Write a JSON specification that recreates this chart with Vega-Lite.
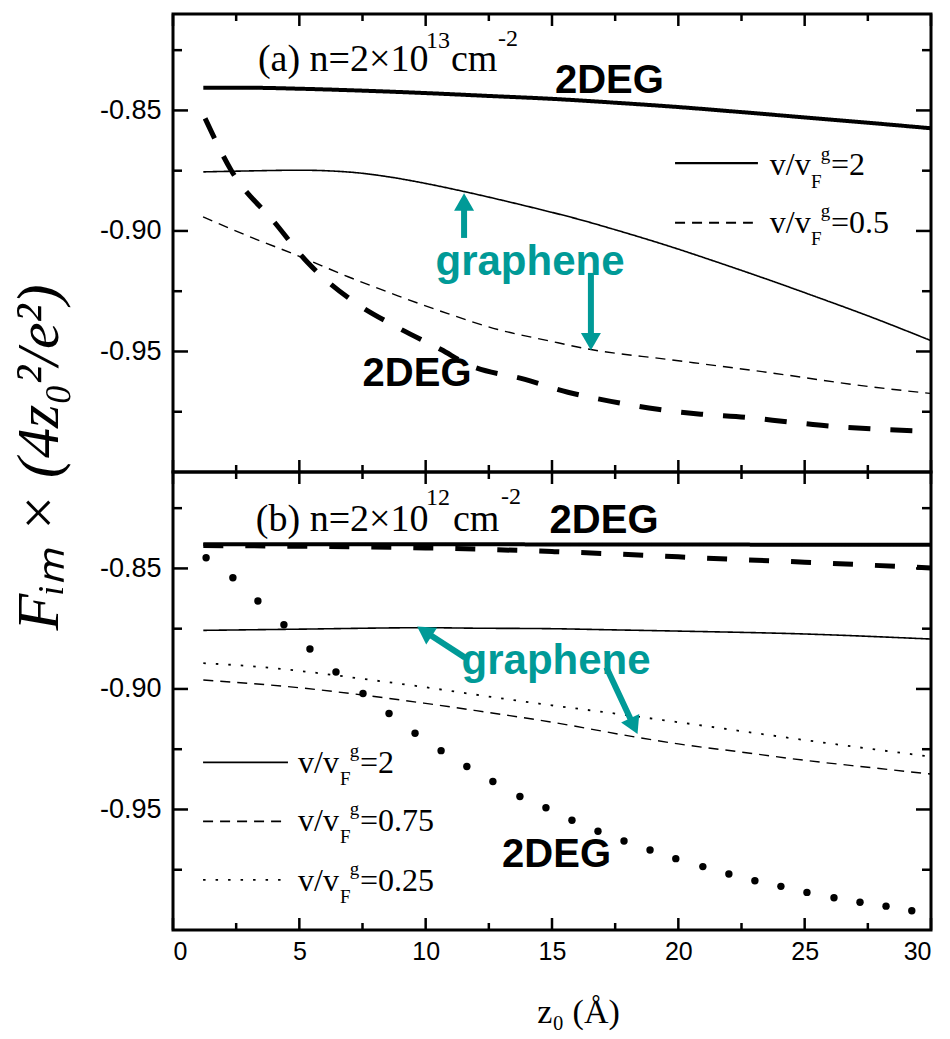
{
  "$schema": "https://vega.github.io/schema/vega-lite/v6.json",
  "background": "white",
  "padding": {"left": 7, "top": 12, "right": 5, "bottom": 5},
  "bounds": "flush",
  "spacing": 0,
  "config": {
    "view": {"stroke": "black", "strokeWidth": 3}
  },
  "datasets": {
    "yMajor": [{"F": -0.85}, {"F": -0.9}, {"F": -0.95}],
    "yMinor": [{"F": -0.825}, {"F": -0.875}, {"F": -0.925}, {"F": -0.975}],
    "xMajor": [{"z": 0}, {"z": 5}, {"z": 10}, {"z": 15}, {"z": 20}, {"z": 25}, {"z": 30}],
    "xMinor": [{"z": 2.5}, {"z": 7.5}, {"z": 12.5}, {"z": 17.5}, {"z": 22.5}, {"z": 27.5}],
    "curvesA": [
      {"series": "2DEG v/vF=2", "z": 1.2, "F": -0.8406}, {"series": "2DEG v/vF=2", "z": 3, "F": -0.8406}, {"series": "2DEG v/vF=2", "z": 5, "F": -0.841}, {"series": "2DEG v/vF=2", "z": 7.5, "F": -0.8418}, {"series": "2DEG v/vF=2", "z": 10, "F": -0.8428}, {"series": "2DEG v/vF=2", "z": 12.5, "F": -0.844}, {"series": "2DEG v/vF=2", "z": 15, "F": -0.8452}, {"series": "2DEG v/vF=2", "z": 17.5, "F": -0.8468}, {"series": "2DEG v/vF=2", "z": 20, "F": -0.8486}, {"series": "2DEG v/vF=2", "z": 22.5, "F": -0.8507}, {"series": "2DEG v/vF=2", "z": 25, "F": -0.8529}, {"series": "2DEG v/vF=2", "z": 27.5, "F": -0.8551}, {"series": "2DEG v/vF=2", "z": 30, "F": -0.8574},
      {"series": "graphene v/vF=2", "z": 1.2, "F": -0.8755}, {"series": "graphene v/vF=2", "z": 3, "F": -0.8751}, {"series": "graphene v/vF=2", "z": 5, "F": -0.8748}, {"series": "graphene v/vF=2", "z": 7, "F": -0.8756}, {"series": "graphene v/vF=2", "z": 8.5, "F": -0.8775}, {"series": "graphene v/vF=2", "z": 10, "F": -0.8803}, {"series": "graphene v/vF=2", "z": 11.5, "F": -0.8836}, {"series": "graphene v/vF=2", "z": 13, "F": -0.8872}, {"series": "graphene v/vF=2", "z": 14.5, "F": -0.891}, {"series": "graphene v/vF=2", "z": 16, "F": -0.895}, {"series": "graphene v/vF=2", "z": 17.5, "F": -0.8995}, {"series": "graphene v/vF=2", "z": 19.6, "F": -0.9062}, {"series": "graphene v/vF=2", "z": 21.5, "F": -0.9128}, {"series": "graphene v/vF=2", "z": 23.5, "F": -0.92}, {"series": "graphene v/vF=2", "z": 25.5, "F": -0.9275}, {"series": "graphene v/vF=2", "z": 27.5, "F": -0.9352}, {"series": "graphene v/vF=2", "z": 30, "F": -0.9455},
      {"series": "graphene v/vF=0.5", "z": 1.19, "F": -0.8942}, {"series": "graphene v/vF=0.5", "z": 2.97, "F": -0.9021}, {"series": "graphene v/vF=0.5", "z": 4.95, "F": -0.9103}, {"series": "graphene v/vF=0.5", "z": 6.93, "F": -0.919}, {"series": "graphene v/vF=0.5", "z": 8.9, "F": -0.9269}, {"series": "graphene v/vF=0.5", "z": 10.88, "F": -0.9343}, {"series": "graphene v/vF=0.5", "z": 12.86, "F": -0.9409}, {"series": "graphene v/vF=0.5", "z": 14.84, "F": -0.9455}, {"series": "graphene v/vF=0.5", "z": 16.54, "F": -0.9492}, {"series": "graphene v/vF=0.5", "z": 19.59, "F": -0.9533}, {"series": "graphene v/vF=0.5", "z": 23.55, "F": -0.9587}, {"series": "graphene v/vF=0.5", "z": 27.5, "F": -0.9645}, {"series": "graphene v/vF=0.5", "z": 29.96, "F": -0.9674},
      {"series": "2DEG v/vF=0.5", "z": 1.27, "F": -0.8533}, {"series": "2DEG v/vF=0.5", "z": 2.3, "F": -0.8748}, {"series": "2DEG v/vF=0.5", "z": 4.04, "F": -0.8967}, {"series": "2DEG v/vF=0.5", "z": 5.34, "F": -0.9132}, {"series": "2DEG v/vF=0.5", "z": 7.04, "F": -0.9285}, {"series": "2DEG v/vF=0.5", "z": 8.9, "F": -0.9401}, {"series": "2DEG v/vF=0.5", "z": 10.61, "F": -0.9492}, {"series": "2DEG v/vF=0.5", "z": 11.67, "F": -0.9554}, {"series": "2DEG v/vF=0.5", "z": 13.93, "F": -0.9616}, {"series": "2DEG v/vF=0.5", "z": 15.63, "F": -0.9669}, {"series": "2DEG v/vF=0.5", "z": 17.33, "F": -0.9707}, {"series": "2DEG v/vF=0.5", "z": 19.19, "F": -0.974}, {"series": "2DEG v/vF=0.5", "z": 20.89, "F": -0.976}, {"series": "2DEG v/vF=0.5", "z": 22.64, "F": -0.9773}, {"series": "2DEG v/vF=0.5", "z": 24.42, "F": -0.9793}, {"series": "2DEG v/vF=0.5", "z": 26.04, "F": -0.981}, {"series": "2DEG v/vF=0.5", "z": 27.78, "F": -0.9822}, {"series": "2DEG v/vF=0.5", "z": 29.96, "F": -0.9831}
    ],
    "curvesB": [
      {"series": "2DEG v/vF=2", "z": 1.2, "F": -0.84}, {"series": "2DEG v/vF=2", "z": 10, "F": -0.84}, {"series": "2DEG v/vF=2", "z": 20, "F": -0.8401}, {"series": "2DEG v/vF=2", "z": 30, "F": -0.8402},
      {"series": "2DEG v/vF=0.75", "z": 1.2, "F": -0.8405}, {"series": "2DEG v/vF=0.75", "z": 5, "F": -0.8408}, {"series": "2DEG v/vF=0.75", "z": 10, "F": -0.8415}, {"series": "2DEG v/vF=0.75", "z": 12, "F": -0.842}, {"series": "2DEG v/vF=0.75", "z": 15, "F": -0.843}, {"series": "2DEG v/vF=0.75", "z": 17.5, "F": -0.844}, {"series": "2DEG v/vF=0.75", "z": 20, "F": -0.8452}, {"series": "2DEG v/vF=0.75", "z": 22.5, "F": -0.8464}, {"series": "2DEG v/vF=0.75", "z": 25, "F": -0.8474}, {"series": "2DEG v/vF=0.75", "z": 27.5, "F": -0.8486}, {"series": "2DEG v/vF=0.75", "z": 30, "F": -0.8498},
      {"series": "graphene v/vF=2", "z": 1.2, "F": -0.8757}, {"series": "graphene v/vF=2", "z": 5, "F": -0.8752}, {"series": "graphene v/vF=2", "z": 10, "F": -0.8746}, {"series": "graphene v/vF=2", "z": 12, "F": -0.8748}, {"series": "graphene v/vF=2", "z": 15, "F": -0.875}, {"series": "graphene v/vF=2", "z": 17, "F": -0.8754}, {"series": "graphene v/vF=2", "z": 20, "F": -0.876}, {"series": "graphene v/vF=2", "z": 25, "F": -0.8772}, {"series": "graphene v/vF=2", "z": 30, "F": -0.8793},
      {"series": "graphene v/vF=0.75", "z": 1.2, "F": -0.8963}, {"series": "graphene v/vF=0.75", "z": 5, "F": -0.8995}, {"series": "graphene v/vF=0.75", "z": 7.5, "F": -0.9025}, {"series": "graphene v/vF=0.75", "z": 10, "F": -0.906}, {"series": "graphene v/vF=0.75", "z": 12, "F": -0.909}, {"series": "graphene v/vF=0.75", "z": 15, "F": -0.9138}, {"series": "graphene v/vF=0.75", "z": 18.5, "F": -0.9203}, {"series": "graphene v/vF=0.75", "z": 20, "F": -0.9228}, {"series": "graphene v/vF=0.75", "z": 22.5, "F": -0.9262}, {"series": "graphene v/vF=0.75", "z": 25, "F": -0.9296}, {"series": "graphene v/vF=0.75", "z": 27.5, "F": -0.9325}, {"series": "graphene v/vF=0.75", "z": 30, "F": -0.9353},
      {"series": "graphene v/vF=0.25", "z": 1.2, "F": -0.8893}, {"series": "graphene v/vF=0.25", "z": 3, "F": -0.8905}, {"series": "graphene v/vF=0.25", "z": 5, "F": -0.8925}, {"series": "graphene v/vF=0.25", "z": 7.5, "F": -0.8958}, {"series": "graphene v/vF=0.25", "z": 10, "F": -0.8993}, {"series": "graphene v/vF=0.25", "z": 12, "F": -0.9024}, {"series": "graphene v/vF=0.25", "z": 15, "F": -0.9068}, {"series": "graphene v/vF=0.25", "z": 17.5, "F": -0.9102}, {"series": "graphene v/vF=0.25", "z": 20, "F": -0.9138}, {"series": "graphene v/vF=0.25", "z": 22.5, "F": -0.9175}, {"series": "graphene v/vF=0.25", "z": 25, "F": -0.9212}, {"series": "graphene v/vF=0.25", "z": 27.5, "F": -0.9247}, {"series": "graphene v/vF=0.25", "z": 30, "F": -0.9281}
    ],
    "dotsB": [
      {"series": "2DEG v/vF=0.25", "z": 1.31, "F": -0.8456}, {"series": "2DEG v/vF=0.25", "z": 2.37, "F": -0.8539}, {"series": "2DEG v/vF=0.25", "z": 3.36, "F": -0.8635}, {"series": "2DEG v/vF=0.25", "z": 4.39, "F": -0.8734}, {"series": "2DEG v/vF=0.25", "z": 5.42, "F": -0.8834}, {"series": "2DEG v/vF=0.25", "z": 6.45, "F": -0.893}, {"series": "2DEG v/vF=0.25", "z": 7.52, "F": -0.9019}, {"series": "2DEG v/vF=0.25", "z": 8.55, "F": -0.9102}, {"series": "2DEG v/vF=0.25", "z": 9.58, "F": -0.9184}, {"series": "2DEG v/vF=0.25", "z": 10.61, "F": -0.9256}, {"series": "2DEG v/vF=0.25", "z": 11.63, "F": -0.9322}, {"series": "2DEG v/vF=0.25", "z": 12.66, "F": -0.9384}, {"series": "2DEG v/vF=0.25", "z": 13.73, "F": -0.9446}, {"series": "2DEG v/vF=0.25", "z": 14.76, "F": -0.9493}, {"series": "2DEG v/vF=0.25", "z": 15.79, "F": -0.9545}, {"series": "2DEG v/vF=0.25", "z": 16.82, "F": -0.959}, {"series": "2DEG v/vF=0.25", "z": 17.85, "F": -0.9631}, {"series": "2DEG v/vF=0.25", "z": 18.88, "F": -0.9668}, {"series": "2DEG v/vF=0.25", "z": 19.9, "F": -0.9704}, {"series": "2DEG v/vF=0.25", "z": 20.97, "F": -0.9737}, {"series": "2DEG v/vF=0.25", "z": 22.0, "F": -0.9768}, {"series": "2DEG v/vF=0.25", "z": 23.03, "F": -0.9796}, {"series": "2DEG v/vF=0.25", "z": 24.06, "F": -0.9819}, {"series": "2DEG v/vF=0.25", "z": 25.09, "F": -0.9844}, {"series": "2DEG v/vF=0.25", "z": 26.16, "F": -0.9866}, {"series": "2DEG v/vF=0.25", "z": 27.19, "F": -0.9885}, {"series": "2DEG v/vF=0.25", "z": 28.22, "F": -0.9901}, {"series": "2DEG v/vF=0.25", "z": 29.24, "F": -0.992}
    ],
    "legLinesA": [
      {"series": "graphene v/vF=2", "z": 19.87, "F": -0.8719}, {"series": "graphene v/vF=2", "z": 23.15, "F": -0.8719},
      {"series": "graphene v/vF=0.5", "z": 19.87, "F": -0.8966}, {"series": "graphene v/vF=0.5", "z": 22.95, "F": -0.8966}
    ],
    "legLinesB": [
      {"series": "graphene v/vF=2", "z": 1.19, "F": -0.9305}, {"series": "graphene v/vF=2", "z": 4.55, "F": -0.9305},
      {"series": "graphene v/vF=0.75", "z": 1.19, "F": -0.9549}, {"series": "graphene v/vF=0.75", "z": 4.35, "F": -0.9549},
      {"series": "graphene v/vF=0.25", "z": 1.19, "F": -0.9792}, {"series": "graphene v/vF=0.25", "z": 4.55, "F": -0.9792}
    ],
    "labelsA": [
      {"role": "title", "text": "(a) n=2×10", "z": 3.36, "F": -0.8335},
      {"role": "sup", "text": "13", "z": 10.01, "F": -0.824},
      {"role": "title", "text": "cm", "z": 11.0, "F": -0.8335},
      {"role": "sup", "text": "-2", "z": 12.86, "F": -0.8231},
      {"role": "deg", "text": "2DEG", "z": 17.27, "F": -0.8426},
      {"role": "deg", "text": "2DEG", "z": 9.66, "F": -0.9645},
      {"role": "gra", "text": "graphene", "z": 14.13, "F": -0.9182},
      {"role": "leg", "text": "v/v", "z": 23.62, "F": -0.8769},
      {"role": "legSub", "text": "F", "z": 25.25, "F": -0.8822},
      {"role": "legSup", "text": "g", "z": 25.64, "F": -0.8707},
      {"role": "leg", "text": "=2", "z": 26.04, "F": -0.8769},
      {"role": "leg", "text": "v/v", "z": 23.62, "F": -0.9008},
      {"role": "legSub", "text": "F", "z": 25.25, "F": -0.9058},
      {"role": "legSup", "text": "g", "z": 25.64, "F": -0.8942},
      {"role": "leg", "text": "=0.5", "z": 26.04, "F": -0.9008}
    ],
    "labelsB": [
      {"role": "title", "text": "(b) n=2×10", "z": 3.28, "F": -0.8346},
      {"role": "sup", "text": "12", "z": 10.01, "F": -0.8235},
      {"role": "title", "text": "cm", "z": 11.08, "F": -0.8346},
      {"role": "sup", "text": "-2", "z": 12.98, "F": -0.8231},
      {"role": "deg", "text": "2DEG", "z": 17.06, "F": -0.8355},
      {"role": "deg", "text": "2DEG", "z": 15.18, "F": -0.9739},
      {"role": "gra", "text": "graphene", "z": 15.16, "F": -0.8937},
      {"role": "leg", "text": "v/v", "z": 4.95, "F": -0.9349},
      {"role": "legSub", "text": "F", "z": 6.61, "F": -0.9398},
      {"role": "legSup", "text": "g", "z": 7.0, "F": -0.9283},
      {"role": "leg", "text": "=2", "z": 7.4, "F": -0.9349},
      {"role": "leg", "text": "v/v", "z": 4.95, "F": -0.959},
      {"role": "legSub", "text": "F", "z": 6.61, "F": -0.9639},
      {"role": "legSup", "text": "g", "z": 7.0, "F": -0.9524},
      {"role": "leg", "text": "=0.75", "z": 7.4, "F": -0.959},
      {"role": "leg", "text": "v/v", "z": 4.95, "F": -0.9837},
      {"role": "legSub", "text": "F", "z": 6.61, "F": -0.9886},
      {"role": "legSup", "text": "g", "z": 7.0, "F": -0.9771},
      {"role": "leg", "text": "=0.25", "z": 7.4, "F": -0.9837}
    ],
    "arrowsA": [
      {"id": 1, "z": 11.52, "F": -0.9029, "z2": 11.52, "F2": -0.8913},
      {"id": 2, "z": 16.54, "F": -0.9174, "z2": 16.54, "F2": -0.943}
    ],
    "headsA": [
      {"id": 1, "z": 11.52, "F": -0.888},
      {"id": 2, "z": 16.54, "F": -0.9459}
    ],
    "arrowsB": [
      {"id": 1, "z": 11.56, "F": -0.887, "z2": 10.15, "F2": -0.8774},
      {"id": 2, "z": 17.15, "F": -0.891, "z2": 18.14, "F2": -0.9132}
    ],
    "headsB": [
      {"id": 1, "z": 9.95, "F": -0.8761},
      {"id": 2, "z": 18.24, "F": -0.9154}
    ]
  },
  "vconcat": [
    {
      "width": 758,
      "height": 458,
      "layer": [
        {
          "data": {"name": "curvesA"},
          "mark": {"type": "line", "color": "black", "interpolate": "monotone"},
          "encoding": {
            "x": {"field": "z", "type": "quantitative", "scale": {"domain": [0, 30], "nice": false, "zero": false},
              "axis": {"orient": "bottom", "values": [0, 5, 10, 15, 20, 25, 30], "grid": false, "domain": false, "ticks": false, "tickSize": 0, "labels": false, "title": null}},
            "y": {"field": "F", "type": "quantitative", "scale": {"domain": [-1.0, -0.81], "nice": false, "zero": false},
              "axis": {"orient": "left", "values": [-0.85, -0.9, -0.95], "grid": false, "domain": false, "ticks": false, "tickSize": 0,
                "labelPadding": 12, "labelFontSize": 27, "labelFont": "Liberation Sans", "labelColor": "black",
                "labelExpr": "'-' + format(-datum.value, '.2f')",
                "title": "Fᵢₘ × (4z₀²/e²)", "titleColor": "black", "titleFont": "Liberation Serif", "titleFontStyle": "italic", "titleFontWeight": "normal", "titleFontSize": 60,
                "titleX": -116, "titleY": 443, "titleAngle": -90, "titleBaseline": "alphabetic", "titleAlign": "center"}},
            "strokeDash": {"field": "series", "type": "nominal", "legend": null,
              "scale": {"domain": ["2DEG v/vF=2", "2DEG v/vF=0.5", "2DEG v/vF=0.75", "graphene v/vF=2", "graphene v/vF=0.5", "graphene v/vF=0.75", "graphene v/vF=0.25"],
                "range": [[1, 0], [22, 20], [20, 22], [1, 0], [10, 7], [10, 7], [2.5, 10]]}},
            "strokeWidth": {"field": "series", "type": "nominal", "legend": null,
              "scale": {"type": "ordinal", "domain": ["2DEG v/vF=2", "2DEG v/vF=0.5", "2DEG v/vF=0.75", "graphene v/vF=2", "graphene v/vF=0.5", "graphene v/vF=0.75", "graphene v/vF=0.25"],
                "range": [4, 5, 5, 1.6, 1.4, 1.4, 1.8]}}
          }
        },
        {"data": {"name": "yMajor"}, "mark": {"type": "tick", "orient": "horizontal", "size": 15, "thickness": 2.5, "color": "black", "opacity": 1, "xOffset": 7.5},
          "encoding": {"x": {"datum": 0, "type": "quantitative"}, "y": {"field": "F", "type": "quantitative"}}},
        {"data": {"name": "yMajor"}, "mark": {"type": "tick", "orient": "horizontal", "size": 15, "thickness": 2.5, "color": "black", "opacity": 1, "xOffset": -7.5},
          "encoding": {"x": {"datum": 30, "type": "quantitative"}, "y": {"field": "F", "type": "quantitative"}}},
        {"data": {"name": "yMinor"}, "mark": {"type": "tick", "orient": "horizontal", "size": 9, "thickness": 2.5, "color": "black", "opacity": 1, "xOffset": 4.5},
          "encoding": {"x": {"datum": 0, "type": "quantitative"}, "y": {"field": "F", "type": "quantitative"}}},
        {"data": {"name": "yMinor"}, "mark": {"type": "tick", "orient": "horizontal", "size": 9, "thickness": 2.5, "color": "black", "opacity": 1, "xOffset": -4.5},
          "encoding": {"x": {"datum": 30, "type": "quantitative"}, "y": {"field": "F", "type": "quantitative"}}},
        {"data": {"name": "xMajor"}, "mark": {"type": "tick", "orient": "vertical", "size": 12, "thickness": 2.5, "color": "black", "opacity": 1, "yOffset": -6},
          "encoding": {"x": {"field": "z", "type": "quantitative"}, "y": {"datum": -1.0, "type": "quantitative"}}},
        {"data": {"name": "xMajor"}, "mark": {"type": "tick", "orient": "vertical", "size": 12, "thickness": 2.5, "color": "black", "opacity": 1, "yOffset": 6},
          "encoding": {"x": {"field": "z", "type": "quantitative"}, "y": {"datum": -0.81, "type": "quantitative"}}},
        {"data": {"name": "xMinor"}, "mark": {"type": "tick", "orient": "vertical", "size": 7, "thickness": 2.5, "color": "black", "opacity": 1, "yOffset": -3.5},
          "encoding": {"x": {"field": "z", "type": "quantitative"}, "y": {"datum": -1.0, "type": "quantitative"}}},
        {"data": {"name": "xMinor"}, "mark": {"type": "tick", "orient": "vertical", "size": 7, "thickness": 2.5, "color": "black", "opacity": 1, "yOffset": 3.5},
          "encoding": {"x": {"field": "z", "type": "quantitative"}, "y": {"datum": -0.81, "type": "quantitative"}}},
        {
          "data": {"name": "legLinesA"},
          "mark": {"type": "line", "color": "black", "strokeWidth": 2.2},
          "encoding": {
            "x": {"field": "z", "type": "quantitative"},
            "y": {"field": "F", "type": "quantitative"},
            "strokeDash": {"field": "series", "type": "nominal", "legend": null}
          }
        },
        {
          "data": {"name": "arrowsA"},
          "mark": {"type": "rule", "color": "#009a97", "strokeWidth": 6},
          "encoding": {
            "x": {"field": "z", "type": "quantitative"},
            "y": {"field": "F", "type": "quantitative"},
            "x2": {"field": "z2"},
            "y2": {"field": "F2"}
          }
        },
        {
          "data": {"name": "headsA"},
          "transform": [{"filter": "datum.id === 1"}],
          "mark": {"type": "point", "shape": "triangle-up", "size": 400, "filled": true, "opacity": 1, "color": "#009a97", "angle": 0},
          "encoding": {"x": {"field": "z", "type": "quantitative"}, "y": {"field": "F", "type": "quantitative"}}
        },
        {
          "data": {"name": "headsA"},
          "transform": [{"filter": "datum.id === 2"}],
          "mark": {"type": "point", "shape": "triangle-up", "size": 400, "filled": true, "opacity": 1, "color": "#009a97", "angle": 180},
          "encoding": {"x": {"field": "z", "type": "quantitative"}, "y": {"field": "F", "type": "quantitative"}}
        },
        {
          "data": {"name": "labelsA"},
          "transform": [{"filter": "datum.role === 'title'"}],
          "mark": {"type": "text", "font": "Liberation Serif", "fontSize": 38, "align": "left", "baseline": "alphabetic", "color": "black"},
          "encoding": {"x": {"field": "z", "type": "quantitative"}, "y": {"field": "F", "type": "quantitative"}, "text": {"field": "text"}}
        },
        {
          "data": {"name": "labelsA"},
          "transform": [{"filter": "datum.role === 'sup'"}],
          "mark": {"type": "text", "font": "Liberation Serif", "fontSize": 24, "align": "left", "baseline": "alphabetic", "color": "black"},
          "encoding": {"x": {"field": "z", "type": "quantitative"}, "y": {"field": "F", "type": "quantitative"}, "text": {"field": "text"}}
        },
        {
          "data": {"name": "labelsA"},
          "transform": [{"filter": "datum.role === 'deg'"}],
          "mark": {"type": "text", "font": "Liberation Sans", "fontWeight": "bold", "fontSize": 40, "align": "center", "baseline": "alphabetic", "color": "black"},
          "encoding": {"x": {"field": "z", "type": "quantitative"}, "y": {"field": "F", "type": "quantitative"}, "text": {"field": "text"}}
        },
        {
          "data": {"name": "labelsA"},
          "transform": [{"filter": "datum.role === 'gra'"}],
          "mark": {"type": "text", "font": "Liberation Sans", "fontWeight": "bold", "fontSize": 42, "align": "center", "baseline": "alphabetic", "color": "#009a97"},
          "encoding": {"x": {"field": "z", "type": "quantitative"}, "y": {"field": "F", "type": "quantitative"}, "text": {"field": "text"}}
        },
        {
          "data": {"name": "labelsA"},
          "transform": [{"filter": "datum.role === 'leg'"}],
          "mark": {"type": "text", "font": "Liberation Serif", "fontSize": 32, "align": "left", "baseline": "alphabetic", "color": "black"},
          "encoding": {"x": {"field": "z", "type": "quantitative"}, "y": {"field": "F", "type": "quantitative"}, "text": {"field": "text"}}
        },
        {
          "data": {"name": "labelsA"},
          "transform": [{"filter": "datum.role === 'legSub' || datum.role === 'legSup'"}],
          "mark": {"type": "text", "font": "Liberation Serif", "fontSize": 19, "align": "left", "baseline": "alphabetic", "color": "black"},
          "encoding": {"x": {"field": "z", "type": "quantitative"}, "y": {"field": "F", "type": "quantitative"}, "text": {"field": "text"}}
        }
      ]
    },
    {
      "width": 758,
      "height": 458,
      "layer": [
        {
          "data": {"name": "curvesB"},
          "mark": {"type": "line", "color": "black", "interpolate": "monotone"},
          "encoding": {
            "x": {"field": "z", "type": "quantitative", "scale": {"domain": [0, 30], "nice": false, "zero": false},
              "axis": {"orient": "bottom", "values": [0, 5, 10, 15, 20, 25, 30], "grid": false, "domain": false, "ticks": false, "tickSize": 0,
                "labelPadding": 9, "labelFontSize": 25, "labelFont": "Liberation Sans", "labelColor": "black",
                "title": "z₀ (Å)", "titleColor": "black", "titleFont": "Liberation Serif", "titleFontWeight": "normal", "titleFontSize": 34, "titleX": 405, "titleY": 92, "titleBaseline": "alphabetic", "titleAlign": "center"}},
            "y": {"field": "F", "type": "quantitative", "scale": {"domain": [-1.0, -0.81], "nice": false, "zero": false},
              "axis": {"orient": "left", "values": [-0.85, -0.9, -0.95], "grid": false, "domain": false, "ticks": false, "tickSize": 0,
                "labelPadding": 12, "labelFontSize": 27, "labelFont": "Liberation Sans", "labelColor": "black",
                "labelExpr": "'-' + format(-datum.value, '.2f')", "title": null}},
            "strokeDash": {"field": "series", "type": "nominal", "legend": null,
              "scale": {"domain": ["2DEG v/vF=2", "2DEG v/vF=0.5", "2DEG v/vF=0.75", "graphene v/vF=2", "graphene v/vF=0.5", "graphene v/vF=0.75", "graphene v/vF=0.25"],
                "range": [[1, 0], [22, 20], [20, 22], [1, 0], [10, 7], [10, 7], [2.5, 10]]}},
            "strokeWidth": {"field": "series", "type": "nominal", "legend": null,
              "scale": {"type": "ordinal", "domain": ["2DEG v/vF=2", "2DEG v/vF=0.5", "2DEG v/vF=0.75", "graphene v/vF=2", "graphene v/vF=0.5", "graphene v/vF=0.75", "graphene v/vF=0.25"],
                "range": [4.5, 5, 5, 1.6, 1.4, 1.4, 1.8]}}
          }
        },
        {"data": {"name": "yMajor"}, "mark": {"type": "tick", "orient": "horizontal", "size": 15, "thickness": 2.5, "color": "black", "opacity": 1, "xOffset": 7.5},
          "encoding": {"x": {"datum": 0, "type": "quantitative"}, "y": {"field": "F", "type": "quantitative"}}},
        {"data": {"name": "yMajor"}, "mark": {"type": "tick", "orient": "horizontal", "size": 15, "thickness": 2.5, "color": "black", "opacity": 1, "xOffset": -7.5},
          "encoding": {"x": {"datum": 30, "type": "quantitative"}, "y": {"field": "F", "type": "quantitative"}}},
        {"data": {"name": "yMinor"}, "mark": {"type": "tick", "orient": "horizontal", "size": 9, "thickness": 2.5, "color": "black", "opacity": 1, "xOffset": 4.5},
          "encoding": {"x": {"datum": 0, "type": "quantitative"}, "y": {"field": "F", "type": "quantitative"}}},
        {"data": {"name": "yMinor"}, "mark": {"type": "tick", "orient": "horizontal", "size": 9, "thickness": 2.5, "color": "black", "opacity": 1, "xOffset": -4.5},
          "encoding": {"x": {"datum": 30, "type": "quantitative"}, "y": {"field": "F", "type": "quantitative"}}},
        {"data": {"name": "xMajor"}, "mark": {"type": "tick", "orient": "vertical", "size": 12, "thickness": 2.5, "color": "black", "opacity": 1, "yOffset": -6},
          "encoding": {"x": {"field": "z", "type": "quantitative"}, "y": {"datum": -1.0, "type": "quantitative"}}},
        {"data": {"name": "xMajor"}, "mark": {"type": "tick", "orient": "vertical", "size": 12, "thickness": 2.5, "color": "black", "opacity": 1, "yOffset": 6},
          "encoding": {"x": {"field": "z", "type": "quantitative"}, "y": {"datum": -0.81, "type": "quantitative"}}},
        {"data": {"name": "xMinor"}, "mark": {"type": "tick", "orient": "vertical", "size": 7, "thickness": 2.5, "color": "black", "opacity": 1, "yOffset": -3.5},
          "encoding": {"x": {"field": "z", "type": "quantitative"}, "y": {"datum": -1.0, "type": "quantitative"}}},
        {"data": {"name": "xMinor"}, "mark": {"type": "tick", "orient": "vertical", "size": 7, "thickness": 2.5, "color": "black", "opacity": 1, "yOffset": 3.5},
          "encoding": {"x": {"field": "z", "type": "quantitative"}, "y": {"datum": -0.81, "type": "quantitative"}}},
        {
          "data": {"name": "dotsB"},
          "mark": {"type": "point", "shape": "circle", "size": 55, "filled": true, "opacity": 1, "color": "black"},
          "encoding": {"x": {"field": "z", "type": "quantitative"}, "y": {"field": "F", "type": "quantitative"}}
        },
        {
          "data": {"name": "legLinesB"},
          "mark": {"type": "line", "color": "black", "strokeWidth": 1.8},
          "encoding": {
            "x": {"field": "z", "type": "quantitative"},
            "y": {"field": "F", "type": "quantitative"},
            "strokeDash": {"field": "series", "type": "nominal", "legend": null}
          }
        },
        {
          "data": {"name": "arrowsB"},
          "mark": {"type": "rule", "color": "#009a97", "strokeWidth": 6},
          "encoding": {
            "x": {"field": "z", "type": "quantitative"},
            "y": {"field": "F", "type": "quantitative"},
            "x2": {"field": "z2"},
            "y2": {"field": "F2"}
          }
        },
        {
          "data": {"name": "headsB"},
          "transform": [{"filter": "datum.id === 1"}],
          "mark": {"type": "point", "shape": "triangle-up", "size": 400, "filled": true, "opacity": 1, "color": "#009a97", "angle": 303},
          "encoding": {"x": {"field": "z", "type": "quantitative"}, "y": {"field": "F", "type": "quantitative"}}
        },
        {
          "data": {"name": "headsB"},
          "transform": [{"filter": "datum.id === 2"}],
          "mark": {"type": "point", "shape": "triangle-up", "size": 400, "filled": true, "opacity": 1, "color": "#009a97", "angle": 155},
          "encoding": {"x": {"field": "z", "type": "quantitative"}, "y": {"field": "F", "type": "quantitative"}}
        },
        {
          "data": {"name": "labelsB"},
          "transform": [{"filter": "datum.role === 'title'"}],
          "mark": {"type": "text", "font": "Liberation Serif", "fontSize": 38, "align": "left", "baseline": "alphabetic", "color": "black"},
          "encoding": {"x": {"field": "z", "type": "quantitative"}, "y": {"field": "F", "type": "quantitative"}, "text": {"field": "text"}}
        },
        {
          "data": {"name": "labelsB"},
          "transform": [{"filter": "datum.role === 'sup'"}],
          "mark": {"type": "text", "font": "Liberation Serif", "fontSize": 24, "align": "left", "baseline": "alphabetic", "color": "black"},
          "encoding": {"x": {"field": "z", "type": "quantitative"}, "y": {"field": "F", "type": "quantitative"}, "text": {"field": "text"}}
        },
        {
          "data": {"name": "labelsB"},
          "transform": [{"filter": "datum.role === 'deg'"}],
          "mark": {"type": "text", "font": "Liberation Sans", "fontWeight": "bold", "fontSize": 40, "align": "center", "baseline": "alphabetic", "color": "black"},
          "encoding": {"x": {"field": "z", "type": "quantitative"}, "y": {"field": "F", "type": "quantitative"}, "text": {"field": "text"}}
        },
        {
          "data": {"name": "labelsB"},
          "transform": [{"filter": "datum.role === 'gra'"}],
          "mark": {"type": "text", "font": "Liberation Sans", "fontWeight": "bold", "fontSize": 42, "align": "center", "baseline": "alphabetic", "color": "#009a97"},
          "encoding": {"x": {"field": "z", "type": "quantitative"}, "y": {"field": "F", "type": "quantitative"}, "text": {"field": "text"}}
        },
        {
          "data": {"name": "labelsB"},
          "transform": [{"filter": "datum.role === 'leg'"}],
          "mark": {"type": "text", "font": "Liberation Serif", "fontSize": 32, "align": "left", "baseline": "alphabetic", "color": "black"},
          "encoding": {"x": {"field": "z", "type": "quantitative"}, "y": {"field": "F", "type": "quantitative"}, "text": {"field": "text"}}
        },
        {
          "data": {"name": "labelsB"},
          "transform": [{"filter": "datum.role === 'legSub' || datum.role === 'legSup'"}],
          "mark": {"type": "text", "font": "Liberation Serif", "fontSize": 19, "align": "left", "baseline": "alphabetic", "color": "black"},
          "encoding": {"x": {"field": "z", "type": "quantitative"}, "y": {"field": "F", "type": "quantitative"}, "text": {"field": "text"}}
        }
      ]
    }
  ]
}
